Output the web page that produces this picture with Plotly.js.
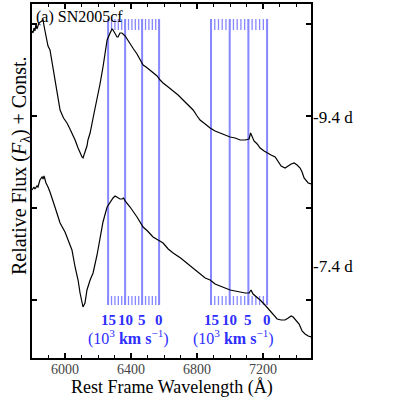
<!DOCTYPE html>
<html>
<head>
<meta charset="utf-8">
<script src="https://cdn.plot.ly/plotly-3.0.1.min.js"></script>
<style>
  html, body { margin: 0; padding: 0; background: #fff; }
  #graph { width: 399px; height: 399px; }
</style>
</head>
<body>
<div id="graph"></div>
<script>
// Spectrum at -9.4 d (wavelength in Angstrom, relative flux + const)
var waveEarly = [5800, 5806, 5812, 5818, 5824, 5830, 5842, 5855, 5867, 5873, 5885, 5897, 5909, 5921, 5939, 5955, 5970, 5991, 6012, 6030,
    6042, 6061, 6079, 6091, 6103, 6109, 6121, 6133, 6139, 6152, 6170, 6194, 6212, 6230, 6245, 6255, 6273, 6285, 6291, 6303,
    6315, 6321, 6333, 6345, 6364, 6376, 6394, 6415, 6436, 6455, 6473, 6491, 6515, 6533, 6558, 6576, 6594, 6625, 6655, 6685,
    6715, 6745, 6776, 6800, 6818, 6849, 6879, 6909, 6939, 6970, 7000, 7030, 7061, 7091, 7115, 7124, 7133, 7145, 7164, 7182,
    7206, 7224, 7248, 7273, 7291, 7309, 7333, 7352, 7370, 7388, 7406, 7424, 7436, 7448, 7460, 7473, 7491];
var fluxEarly = [3.27, 3.25, 3.30, 3.27, 3.34, 3.29, 3.35, 3.37, 3.38, 3.32, 3.20, 3.12, 3.08, 2.96, 2.75, 2.60, 2.48, 2.40, 2.35, 2.29,
    2.25, 2.18, 2.10, 2.05, 2.01, 2.00, 2.06, 2.12, 2.18, 2.25, 2.40, 2.58, 2.74, 2.91, 3.08, 3.18, 3.25, 3.29, 3.28, 3.25,
    3.21, 3.21, 3.25, 3.25, 3.22, 3.19, 3.14, 3.09, 3.04, 2.98, 2.93, 2.91, 2.88, 2.86, 2.82, 2.78, 2.75, 2.71, 2.67, 2.63,
    2.58, 2.53, 2.48, 2.42, 2.38, 2.34, 2.30, 2.27, 2.25, 2.23, 2.21, 2.20, 2.18, 2.18, 2.19, 2.25, 2.22, 2.17, 2.14, 2.10,
    2.07, 2.05, 2.03, 2.01, 1.96, 1.92, 1.90, 1.92, 1.94, 1.95, 1.93, 1.90, 1.86, 1.80, 1.77, 1.75, 1.74];

// Spectrum at -7.4 d
var waveLate = [5800, 5812, 5818, 5830, 5836, 5848, 5861, 5867, 5873, 5885, 5897, 5909, 5939, 5970, 6000, 6012, 6030, 6042, 6061, 6079,
    6091, 6103, 6109, 6121, 6133, 6152, 6170, 6194, 6212, 6230, 6255, 6273, 6291, 6303, 6315, 6333, 6345, 6355, 6364, 6394,
    6436, 6473, 6500, 6533, 6564, 6594, 6625, 6655, 6700, 6739, 6776, 6818, 6849, 6879, 6909, 6939, 6970, 7000, 7030, 7061,
    7091, 7115, 7127, 7139, 7164, 7182, 7206, 7236, 7260, 7285, 7309, 7333, 7352, 7370, 7382, 7400, 7418, 7436, 7454, 7473, 7491];
var fluxLate = [1.68, 1.71, 1.69, 1.72, 1.71, 1.78, 1.81, 1.79, 1.82, 1.75, 1.71, 1.66, 1.51, 1.35, 1.26, 1.21, 1.15, 1.08, 0.91, 0.78,
    0.65, 0.55, 0.51, 0.55, 0.68, 0.78, 0.85, 1.03, 1.18, 1.36, 1.51, 1.56, 1.60, 1.62, 1.61, 1.59, 1.59, 1.60, 1.57, 1.51,
    1.41, 1.31, 1.27, 1.21, 1.18, 1.15, 1.09, 1.05, 1.00, 0.95, 0.90, 0.84, 0.80, 0.78, 0.74, 0.72, 0.70, 0.68, 0.67, 0.66,
    0.65, 0.65, 0.68, 0.64, 0.61, 0.58, 0.54, 0.48, 0.44, 0.39, 0.38, 0.38, 0.40, 0.42, 0.41, 0.38, 0.34, 0.27, 0.24, 0.22, 0.21];

// Velocity markers: zero-velocity wavelengths of the two combs, velocities in 10^3 km/s
var restWaves = [6570, 7224];
var velTeeth = [0, 1, 2, 3, 4, 5, 6, 7, 8, 9, 10, 11, 12, 13, 14, 15];
var velMain = [0, 5, 10, 15];
var velScale = 319; // 10^3 km/s per unit fractional shift as drawn
var phaseLabels = ['-9.4 d', '-7.4 d'];
var phaseY = [2.41, 0.92];
var yTicks = [0.58, 1.50, 2.42, 3.34];
var xTicks = [6000, 6400, 6800, 7200];

var blueLine = 'rgb(135,135,255)';
var blueText = 'rgb(45,45,255)';
var serif = 'Liberation Serif, DejaVu Serif, serif';

var traces = [];
var annotations = [];

restWaves.forEach(function(rest) {
    // short comb teeth at top and bottom
    var tx = [], ty = [];
    velTeeth.forEach(function(v) {
        var w = rest * (1 - v / velScale);
        tx.push(w, w, null, w, w, null);
        ty.push(3.39, 3.28, null, 0.53, 0.62, null);
    });
    traces.push({ x: tx, y: ty, type: 'scatter', mode: 'lines', line: { color: blueLine, width: 1.3 }, hoverinfo: 'skip' });
    // long lines every 5000 km/s
    var lx = [], ly = [];
    velMain.forEach(function(v) {
        var w = rest * (1 - v / velScale);
        lx.push(w, w, null);
        ly.push(3.39, 0.53, null);
        annotations.push({ x: w, y: 0.38, xref: 'x', yref: 'y', text: '<b>' + v + '</b>', showarrow: false,
            font: { family: serif, size: 15, color: blueText } });
    });
    traces.push({ x: lx, y: ly, type: 'scatter', mode: 'lines', line: { color: blueLine, width: 2 }, hoverinfo: 'skip' });
    annotations.push({ x: rest * (1 - 9 / velScale), y: 0.21, xref: 'x', yref: 'y',
        text: '(10<sup>3</sup> <b>km s</b><sup>\u22121</sup>)', showarrow: false,
        font: { family: serif, size: 16, color: blueText } });
});

traces.push({ x: waveEarly, y: fluxEarly, type: 'scatter', mode: 'lines', line: { color: 'black', width: 1.2 }, hoverinfo: 'skip' });
traces.push({ x: waveLate, y: fluxLate, type: 'scatter', mode: 'lines', line: { color: 'black', width: 1.2 }, hoverinfo: 'skip' });

phaseLabels.forEach(function(t, i) {
    annotations.push({ x: 1, y: phaseY[i], xref: 'paper', yref: 'y', xanchor: 'left', text: t, showarrow: false,
        font: { family: serif, size: 17, color: 'black' } });
});

annotations.push({ x: 0.008, y: 0.995, xref: 'paper', yref: 'paper', xanchor: 'left', yanchor: 'top',
    text: '(a) SN2005cf', showarrow: false, font: { family: serif, size: 16, color: 'black' } });

annotations.push({ x: -0.095, y: 0.545, xref: 'paper', yref: 'paper', textangle: -90,
    text: 'Relative Flux (<i>F</i><sub>\u03bb</sub>) + Const.', showarrow: false,
    font: { family: serif, size: 20, color: 'black' } });

annotations.push({ x: 0.5, y: -0.083, xref: 'paper', yref: 'paper', yanchor: 'middle',
    text: 'Rest Frame Wavelength (\u00c5)', showarrow: false,
    font: { family: serif, size: 18, color: 'black' } });

var layout = {
    width: 399,
    height: 399,
    showlegend: false,
    paper_bgcolor: 'white',
    plot_bgcolor: 'white',
    margin: { l: 32, r: 88, t: 4, b: 41 },
    font: { family: serif, color: 'black' },
    xaxis: {
        range: [5800, 7490],
        tickvals: xTicks,
        ticks: 'inside',
        ticklen: 5,
        tickwidth: 1.5,
        tickcolor: 'black',
        minor: { dtick: 100, ticks: 'inside', ticklen: 3, tickcolor: 'black', tickwidth: 1 },
        showline: true,
        linewidth: 2,
        linecolor: 'black',
        mirror: 'ticks',
        showgrid: false,
        zeroline: false,
        ticklabelstandoff: -3,
        tickfont: { family: serif, size: 14, color: '#444' }
    },
    yaxis: {
        range: [0, 3.54],
        tickvals: yTicks,
        showticklabels: false,
        ticks: 'inside',
        ticklen: 5,
        tickwidth: 1.5,
        tickcolor: 'black',
        showline: true,
        linewidth: 2,
        linecolor: 'black',
        mirror: 'ticks',
        showgrid: false,
        zeroline: false
    },
    annotations: annotations
};

Plotly.newPlot('graph', traces, layout, { displayModeBar: false, staticPlot: true });
</script>
</body>
</html>
